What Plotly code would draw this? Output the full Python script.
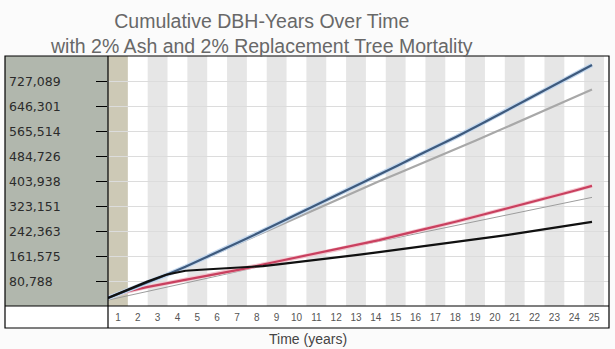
import plotly.graph_objects as go

# ---- data -------------------------------------------------------------
years = list(range(0, 26))
categories = list(range(1, 26))

y_step = 80787.68
y_max = 10 * y_step
y_tick_values = [y_step * k for k in range(1, 10)]
y_tick_labels = ["80,788", "161,575", "242,363", "323,151", "403,938",
                 "484,726", "565,514", "646,301", "727,089"]

blue_series = [26000, 50000, 75000, 100000, 127000, 155000, 184000, 213000,
               243000, 273000, 303000, 334000, 364000, 394000, 424000, 455000,
               486000, 516000, 547000, 579000, 612000, 646000, 679000, 712000,
               745000, 779000]
gray_series = [26000, 50000, 75000, 100000, 126000, 153000, 181000, 209000,
               237000, 265000, 293000, 321000, 349000, 377000, 403000, 429000,
               455000, 482000, 508000, 535000, 562000, 589000, 617000, 645000,
               672000, 700000]
red_series = [28000, 47000, 61000, 73000, 84000, 96000, 107000, 120000,
              134000, 147000, 159000, 172000, 185000, 199000, 213000, 228000,
              242000, 258000, 273000, 289000, 305000, 321000, 338000, 354000,
              371000, 388000]
thin_gray_series = [19000, 33000, 47000, 61000, 75000, 88000, 102000, 116000,
                    130000, 144000, 157000, 170000, 183000, 196000, 209000,
                    222000, 236000, 249000, 262000, 274000, 287000, 299000,
                    312000, 325000, 338000, 351000]
black_series = [26000, 52000, 78000, 101000, 114000, 118000, 121000, 124000,
                129000, 136000, 143000, 150000, 158000, 166000, 174000, 182000,
                190000, 198000, 206000, 215000, 224000, 233000, 243000, 252000,
                262000, 272000]

title_lines = ["Cumulative DBH-Years Over Time",
               "with 2% Ash and 2% Replacement Tree Mortality"]

# ---- geometry -----------------------------------------------------------
W, H = 615, 349
L, R, T, B = 108, 6, 56, 43
PW, PH = W - L - R, H - T - B


def px_x(px):
    return (px - L) / PW


def px_y(py):
    return (H - B - py) / PH


col_w = 496 / 25                      # width of one year column in pixels
x_hi = 0.5 + PW / col_w               # category axis upper bound
t_hi = 25 * PW / 484                  # time axis upper bound (lines end at t=25)

fig = go.Figure()

# lines (drawn on a hidden overlaid time axis)
fig.add_trace(go.Scatter(x=years, y=thin_gray_series, mode="lines",
                         line=dict(color="#9c9c9c", width=1), xaxis="x2"))
fig.add_trace(go.Scatter(x=years, y=gray_series, mode="lines",
                         line=dict(color="#a8a8a8", width=2.2), xaxis="x2"))
fig.add_trace(go.Scatter(x=years, y=red_series, mode="lines",
                         line=dict(color="#f2c6cf", width=4), xaxis="x2"))
fig.add_trace(go.Scatter(x=years, y=red_series, mode="lines",
                         line=dict(color="#c9405f", width=2.2), xaxis="x2"))
fig.add_trace(go.Scatter(x=years, y=blue_series, mode="lines",
                         line=dict(color="#c4d8ee", width=4.5), xaxis="x2"))
fig.add_trace(go.Scatter(x=years, y=blue_series, mode="lines",
                         line=dict(color="#3e5a7d", width=2.2), xaxis="x2"))
fig.add_trace(go.Scatter(x=years, y=black_series, mode="lines",
                         line=dict(color="#111111", width=2.2), xaxis="x2"))

shapes = []
# alternating year bands
for c in categories:
    if c == 1:
        color = "#cdc9b6"
    elif c % 2 == 1:
        color = "#e6e6e6"
    else:
        continue
    shapes.append(dict(type="rect", xref="x", yref="paper", x0=c - 0.5,
                       x1=c + 0.5, y0=0, y1=1, fillcolor=color,
                       line=dict(width=0), layer="below"))
# left axis panel
shapes.append(dict(type="rect", xref="paper", yref="paper", x0=px_x(5), x1=0,
                   y0=0, y1=1, fillcolor="#b1b7ad", line=dict(width=0),
                   layer="below"))
# white strip under the plot
shapes.append(dict(type="rect", xref="paper", yref="paper", x0=px_x(5), x1=1,
                   y0=px_y(328), y1=0, fillcolor="#ffffff", line=dict(width=0),
                   layer="below"))
# frame
shapes.append(dict(type="rect", xref="paper", yref="paper", x0=px_x(5), x1=1,
                   y0=px_y(328), y1=1, line=dict(color="#000000", width=1.2),
                   layer="above"))
shapes.append(dict(type="line", xref="paper", yref="paper", x0=0, x1=0,
                   y0=px_y(328), y1=1, line=dict(color="#000000", width=1.2),
                   layer="above"))
shapes.append(dict(type="line", xref="paper", yref="paper", x0=px_x(5), x1=1,
                   y0=0, y1=0, line=dict(color="#000000", width=1.2),
                   layer="above"))

annotations = []
for v, lab in zip(y_tick_values, y_tick_labels):
    annotations.append(dict(text=lab, xref="paper", yref="y", x=px_x(7),
                            y=v, xanchor="left", yanchor="middle",
                            showarrow=False,
                            font=dict(family="DejaVu Sans", size=12.5,
                                      color="#2b2b2b")))
annotations.append(dict(text="<br>".join(title_lines), xref="paper",
                        yref="paper", x=px_x(261), y=px_y(33.6),
                        xanchor="center", yanchor="middle", align="center",
                        showarrow=False,
                        font=dict(family="Liberation Sans, Arial", size=19.5,
                                  color="#686868")))
annotations.append(dict(text="Time (years)", xref="paper", yref="paper",
                        x=px_x(307.5), y=px_y(339), xanchor="center",
                        yanchor="middle", showarrow=False,
                        font=dict(family="Liberation Sans, Arial", size=14,
                                  color="#444444")))

fig.update_layout(
    width=W, height=H,
    margin=dict(l=L, r=R, t=T, b=B, pad=0),
    paper_bgcolor="#fbfbfb",
    plot_bgcolor="#ffffff",
    showlegend=False,
    shapes=shapes,
    annotations=annotations,
    xaxis=dict(range=[0.5, x_hi], tickmode="array", tickvals=categories,
               ticktext=[str(c) for c in categories], showgrid=False,
               zeroline=False, showline=False, ticks="", ticklabelstandoff=4,
               tickfont=dict(family="Liberation Sans, Arial", size=10,
                             color="#555555"), fixedrange=True),
    xaxis2=dict(range=[0, t_hi], overlaying="x", visible=False),
    yaxis=dict(range=[0, y_max], tickmode="array", tickvals=y_tick_values,
               showticklabels=False, ticks="outside", ticklen=11,
               tickcolor="#000000", tickwidth=1, showgrid=True,
               gridcolor="#dcdcdc", gridwidth=1, zeroline=False,
               showline=False),
)

fig.write_html("out.html")
